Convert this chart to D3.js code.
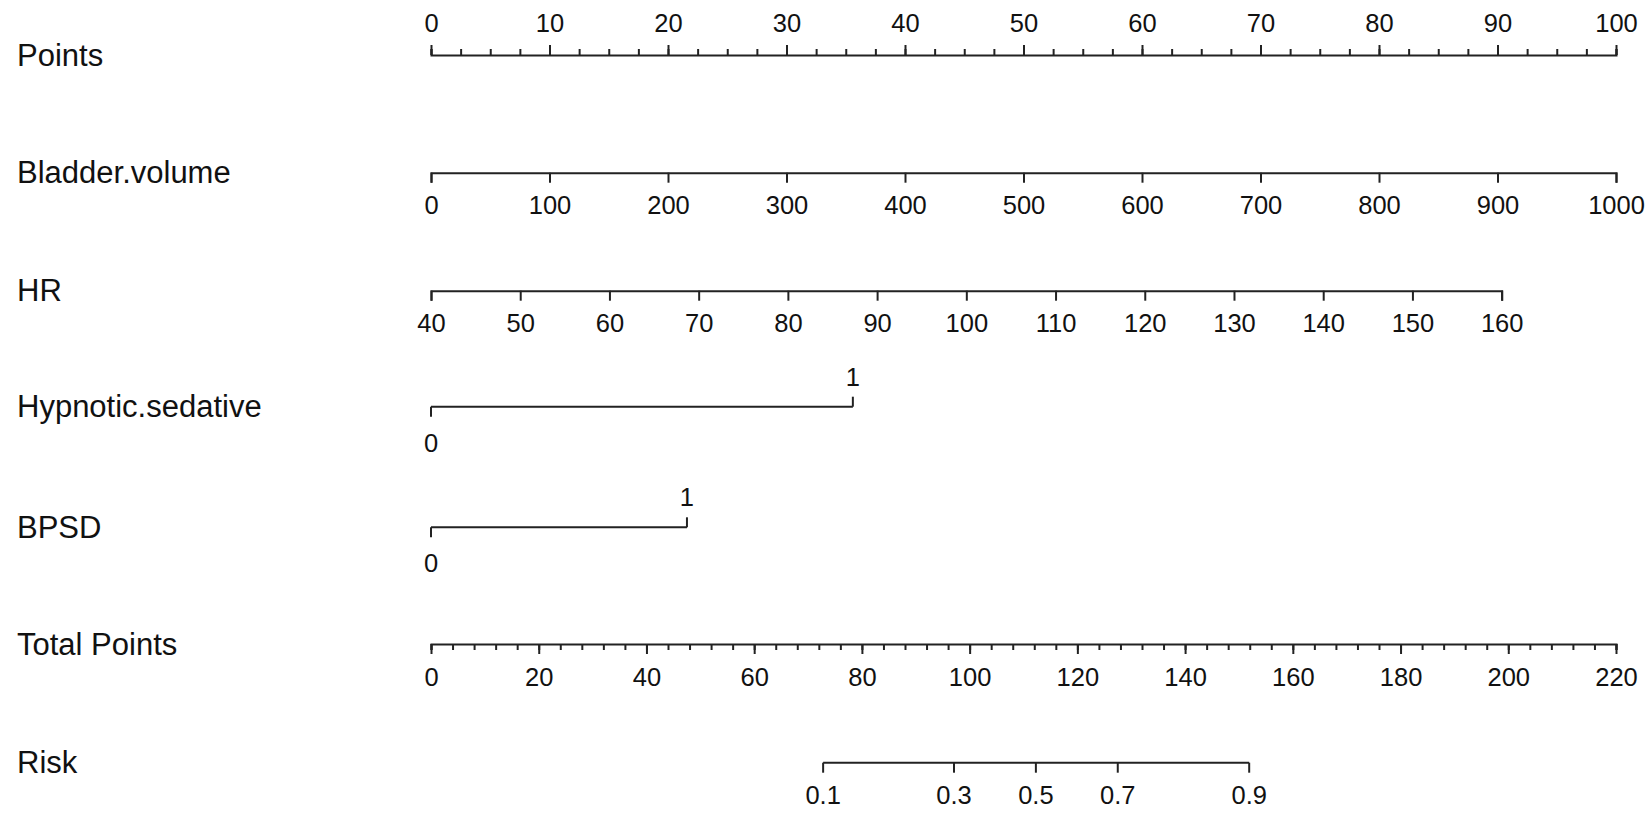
<!DOCTYPE html>
<html>
<head>
<meta charset="utf-8">
<script src="https://cdn.jsdelivr.net/npm/d3@7"></script>
<style>
  html, body { margin: 0; padding: 0; background: #fff; }
  svg { display: block; }
  .domain, .tick line { stroke: #222; stroke-width: 2; }
  text { font-family: "Liberation Sans", Arial, Helvetica, sans-serif; fill: #111; }
</style>
</head>
<body>
<svg id="chart" width="1652" height="815"></svg>
<script>
// ---- data ----
const rowLabels = ["Points", "Bladder.volume", "HR", "Hypnotic.sedative", "BPSD", "Total Points", "Risk"];

const pointsTicks = [0, 10, 20, 30, 40, 50, 60, 70, 80, 90, 100];
const pointsMinor = d3.range(0, 100.01, 2.5);

const bladderTicks = [0, 100, 200, 300, 400, 500, 600, 700, 800, 900, 1000];
const bladderPointRange = [0, 100];          // points at 0 and 1000

const hrTicks = [40, 50, 60, 70, 80, 90, 100, 110, 120, 130, 140, 150, 160];
const hrPointRange = [0, 90.35];             // points at HR 40 and 160

const hypnoticLevels = [0, 1];
const hypnoticPoints = [0, 35.6];

const bpsdLevels = [0, 1];
const bpsdPoints = [0, 21.6];

const totalTicks = [0, 20, 40, 60, 80, 100, 120, 140, 160, 180, 200, 220];
const totalMinor = d3.range(0, 220.01, 4);

const riskTicks = [0.1, 0.3, 0.5, 0.7, 0.9];
const riskTotalPoints = [72.8, 97.1, 112.3, 127.5, 151.9];

// ---- layout ----
const svg = d3.select("#chart");
const rowY = [55, 172.7, 290.7, 406.7, 527.3, 644, 762.7];
const labelX = 17;
const tickFont = 25.5, rowFont = 31;

const xPoints = d3.scaleLinear().domain([0, 100]).range([431, 1616]);
const xTotal = d3.scaleLinear().domain([0, 220]).range([431, 1616]);

// row labels
svg.selectAll("text.rowlab").data(rowLabels).join("text")
  .attr("class", "rowlab")
  .attr("x", labelX)
  .attr("y", (d, i) => rowY[i])
  .attr("dominant-baseline", "central")
  .style("font-size", rowFont + "px")
  .text(d => d);

function styleLabels(g, above) {
  g.selectAll(".tick text")
    .attr("y", above ? -22.7 : 41.5)
    .attr("dy", 0)
    .style("font-size", tickFont + "px")
    .style("font-family", '"Liberation Sans", Arial, Helvetica, sans-serif')
    .attr("fill", "#111");
  g.attr("font-size", null).attr("font-family", null);
}

// Points row
const gp = svg.append("g").attr("transform", `translate(0,${rowY[0]})`);
gp.append("g").call(d3.axisTop(xPoints).tickValues(pointsMinor).tickSize(6).tickFormat(""));
const gpMaj = gp.append("g").call(d3.axisTop(xPoints).tickValues(pointsTicks).tickSize(10).tickFormat(d3.format("d")));
gpMaj.select(".domain").remove();
styleLabels(gpMaj, true);

// Bladder.volume row
const xBladder = d3.scaleLinear().domain(d3.extent(bladderTicks)).range(bladderPointRange.map(xPoints));
const gb = svg.append("g").attr("transform", `translate(0,${rowY[1]})`)
  .call(d3.axisBottom(xBladder).tickValues(bladderTicks).tickSize(10).tickFormat(d3.format("d")));
styleLabels(gb, false);

// HR row
const xHR = d3.scaleLinear().domain(d3.extent(hrTicks)).range(hrPointRange.map(xPoints));
const gh = svg.append("g").attr("transform", `translate(0,${rowY[2]})`)
  .call(d3.axisBottom(xHR).tickValues(hrTicks).tickSize(10).tickFormat(d3.format("d")));
styleLabels(gh, false);

// binary rows
function binaryRow(levels, pts, y) {
  const x = d3.scaleOrdinal().domain(levels).range(pts.map(xPoints));
  const g = svg.append("g").attr("transform", `translate(0,${y})`);
  g.append("line").attr("x1", x(levels[0])).attr("x2", x(levels[1]))
    .attr("y1", 0).attr("y2", 0).attr("stroke", "#222").attr("stroke-width", 2);
  // level 0: tick down, label below
  g.append("line").attr("x1", x(levels[0])).attr("x2", x(levels[0]))
    .attr("y1", 0).attr("y2", 10).attr("stroke", "#222").attr("stroke-width", 2);
  g.append("text").attr("x", x(levels[0])).attr("y", 45).attr("text-anchor", "middle")
    .style("font-size", tickFont + "px").text(levels[0]);
  // level 1: tick up, label above
  g.append("line").attr("x1", x(levels[1])).attr("x2", x(levels[1]))
    .attr("y1", 0).attr("y2", -10).attr("stroke", "#222").attr("stroke-width", 2);
  g.append("text").attr("x", x(levels[1])).attr("y", -21).attr("text-anchor", "middle")
    .style("font-size", tickFont + "px").text(levels[1]);
}
binaryRow(hypnoticLevels, hypnoticPoints, rowY[3]);
binaryRow(bpsdLevels, bpsdPoints, rowY[4]);

// Total Points row
const gt = svg.append("g").attr("transform", `translate(0,${rowY[5]})`);
gt.append("g").call(d3.axisBottom(xTotal).tickValues(totalMinor).tickSize(6).tickFormat(""));
const gtMaj = gt.append("g").call(d3.axisBottom(xTotal).tickValues(totalTicks).tickSize(10).tickFormat(d3.format("d")));
gtMaj.select(".domain").remove();
styleLabels(gtMaj, false);

// Risk row
const riskToTotal = d3.scaleOrdinal().domain(riskTicks).range(riskTotalPoints);
const xRisk = v => xTotal(riskToTotal(v));
const gr = svg.append("g").attr("transform", `translate(0,${rowY[6]})`);
gr.append("line").attr("x1", xRisk(riskTicks[0])).attr("x2", xRisk(riskTicks[riskTicks.length - 1]))
  .attr("y1", 0).attr("y2", 0).attr("stroke", "#222").attr("stroke-width", 2);
const rt = gr.selectAll("g.rtick").data(riskTicks).join("g")
  .attr("class", "rtick").attr("transform", d => `translate(${xRisk(d)},0)`);
rt.append("line").attr("y1", 0).attr("y2", 10).attr("stroke", "#222").attr("stroke-width", 2);
rt.append("text").attr("y", 41.5).attr("text-anchor", "middle")
  .style("font-size", tickFont + "px").text(d => d);
</script>
</body>
</html>
